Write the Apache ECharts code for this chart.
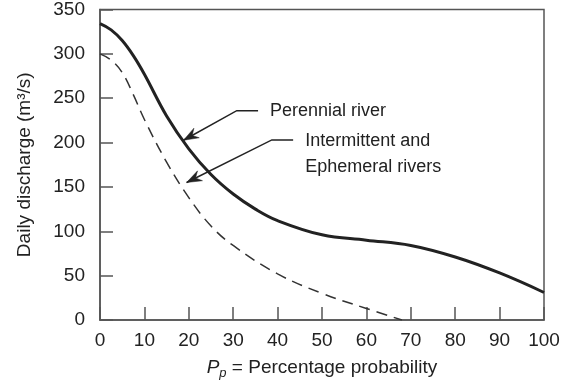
<!DOCTYPE html>
<html>
<head>
<meta charset="utf-8">
<script src="https://cdn.jsdelivr.net/npm/echarts@6/dist/echarts.min.js"></script>
<style>
  html, body { margin: 0; padding: 0; background: #fff; }
  #chart { width: 565px; height: 387px; }
</style>
</head>
<body>
<div id="chart"></div>
<script>
// Flow-duration curves: daily discharge against percentage probability of exceedance
const probability = [0, 2.5, 5, 7.5, 10, 15, 20, 25, 30, 35, 40, 50, 60, 70, 80, 90, 100];
const perennial   = [334, 327, 315, 298, 277, 230, 193, 164, 142, 125, 112, 96, 90, 84, 71, 53, 31];

const probabilityEph = [0, 2.5, 5, 7.5, 10, 15, 20, 25, 30, 40, 50, 60, 68];
const ephemeral      = [300, 293, 279, 254, 226, 178, 138, 106, 84, 52, 30, 13, 0];

const xTicks = { min: 0, max: 100, interval: 10 };
const yTicks = { min: 0, max: 350, interval: 50 };

// Callouts: arrow tip on the curve, elbow of the leader, end of leader, label lines
const callouts = [
  { tip: [18.8, 202.6], elbow: [30.8, 236], end: [35.6, 236], text: ['Perennial river'], textAt: [38.3, 236] },
  { tip: [19.5, 155], elbow: [38.7, 203], end: [43.5, 203], text: ['Intermittent and', 'Ephemeral rivers'], textAt: [46.2, 202] }
];

const FONT = "'Liberation Sans', Arial, sans-serif";
const INK = '#222';
const AXIS = '#555';

const chart = echarts.init(document.getElementById('chart'), null, { renderer: 'canvas' });

chart.setOption({
  animation: false,
  backgroundColor: '#fff',
  grid: {
    left: 100, right: 21, top: 8, bottom: 67,
    show: true, borderColor: AXIS, borderWidth: 1.5, backgroundColor: 'transparent'
  },
  xAxis: {
    type: 'value',
    min: xTicks.min, max: xTicks.max, interval: xTicks.interval,
    axisLine: { show: true, lineStyle: { color: AXIS, width: 1.5 } },
    axisTick: { show: true, inside: true, length: 13, lineStyle: { color: AXIS, width: 1.5 } },
    splitLine: { show: false },
    axisLabel: { color: INK, fontFamily: FONT, fontSize: 19, margin: 11 },
    name: '{i|P}{sub|p}{t| = Percentage probability}',
    nameLocation: 'middle',
    nameGap: 35,
    nameTextStyle: {
      color: INK, fontFamily: FONT, fontSize: 19,
      rich: {
        i: { fontFamily: FONT, fontSize: 19, fontStyle: 'italic', color: INK },
        sub: { fontFamily: FONT, fontSize: 13, fontStyle: 'italic', color: INK, padding: [12, 0, 0, 0] },
        t: { fontFamily: FONT, fontSize: 19, color: INK }
      }
    }
  },
  yAxis: {
    type: 'value',
    min: yTicks.min, max: yTicks.max, interval: yTicks.interval,
    axisLine: { show: true, lineStyle: { color: AXIS, width: 1.5 } },
    axisTick: { show: true, inside: true, length: 13, lineStyle: { color: AXIS, width: 1.5 } },
    splitLine: { show: false },
    axisLabel: { color: INK, fontFamily: FONT, fontSize: 19, margin: 15 },
    name: 'Daily discharge (m³/s)',
    nameLocation: 'middle',
    nameRotate: 90,
    nameGap: 66,
    nameTextStyle: { color: INK, fontFamily: FONT, fontSize: 19 }
  },
  series: [
    {
      name: 'Perennial river',
      type: 'line',
      data: probability.map((p, i) => [p, perennial[i]]),
      smooth: 0.4,
      showSymbol: false,
      lineStyle: { color: '#222', width: 3 }
    },
    {
      name: 'Intermittent and Ephemeral rivers',
      type: 'line',
      data: probabilityEph.map((p, i) => [p, ephemeral[i]]),
      smooth: 0.4,
      showSymbol: false,
      lineStyle: { color: '#333', width: 1.5, type: [11, 7] }
    }
  ]
});

// Leader lines with filled arrowheads, positioned through the axis scales
function px(pt) { return chart.convertToPixel({ gridIndex: 0 }, pt); }

const graphics = [];
callouts.forEach(c => {
  const tip = px(c.tip), elbow = px(c.elbow), end = px(c.end), at = px(c.textAt);
  graphics.push({
    type: 'polyline',
    shape: { points: [end, elbow, tip] },
    style: { stroke: INK, lineWidth: 1.5, fill: null },
    z: 10
  });
  const dx = tip[0] - elbow[0], dy = tip[1] - elbow[1];
  const len = Math.hypot(dx, dy);
  const ux = dx / len, uy = dy / len, nx = -uy, ny = ux;
  const L = 15, W = 5.5, notch = 10;
  const back = [tip[0] - ux * L, tip[1] - uy * L];
  graphics.push({
    type: 'polygon',
    shape: {
      points: [
        tip,
        [back[0] + nx * W, back[1] + ny * W],
        [tip[0] - ux * notch, tip[1] - uy * notch],
        [back[0] - nx * W, back[1] - ny * W]
      ]
    },
    style: { fill: INK, stroke: INK, lineWidth: 0.5 },
    z: 11
  });
  const lineH = 26;
  c.text.forEach((t, k) => {
    graphics.push({
      type: 'text',
      x: at[0],
      y: at[1] + k * lineH,
      style: {
        text: t, fill: INK, font: '18px ' + FONT,
        textAlign: 'left', textVerticalAlign: 'middle'
      },
      z: 12
    });
  });
});
chart.setOption({ graphic: graphics });
</script>
</body>
</html>
